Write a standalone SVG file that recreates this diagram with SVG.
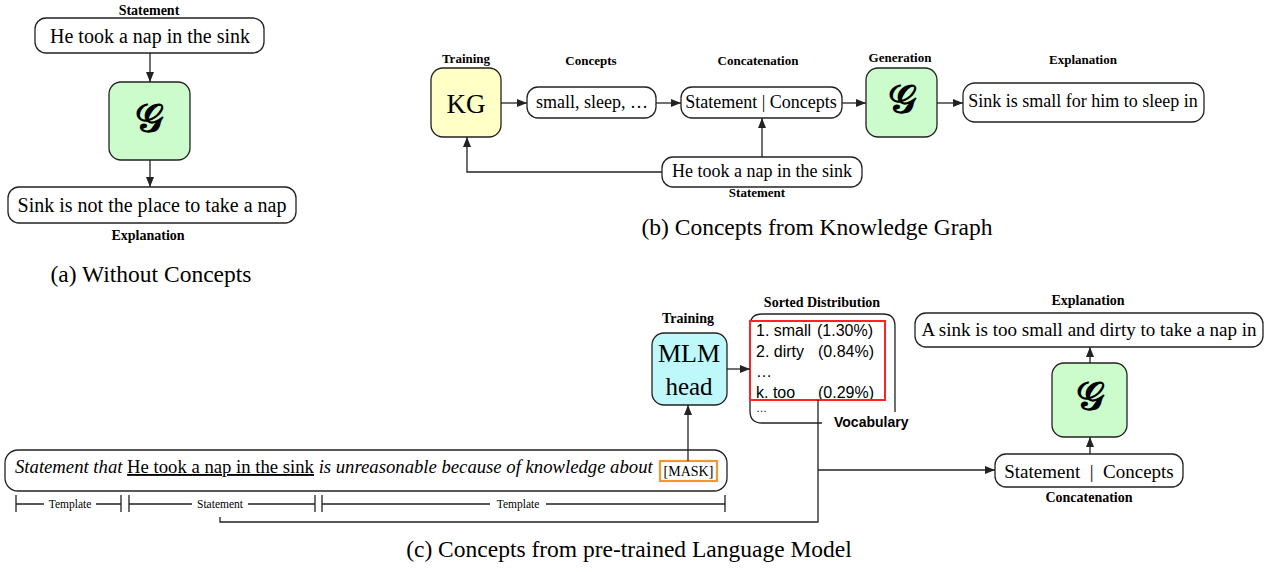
<svg xmlns="http://www.w3.org/2000/svg" width="1276" height="572" viewBox="0 0 1276 572">
<style>
.box{fill:#fff;stroke:#222;stroke-width:1.3}
.gbox{fill:#ccfccc;stroke:#222;stroke-width:1.3}
.kg{fill:#ffffc6;stroke:#222;stroke-width:1.3}
.mlm{fill:#bff8fb;stroke:#222;stroke-width:1.3}
.ln{fill:none;stroke:#222;stroke-width:1.3}
.arr{fill:none;stroke:#222;stroke-width:1.3;marker-end:url(#ah)}
text{font-family:"Liberation Serif","Times New Roman",serif;fill:#000}
.lbl{font-weight:bold;font-size:14px;text-anchor:middle}
.lblb{font-weight:bold;font-size:13px;text-anchor:middle}
.t20{font-size:20px;text-anchor:middle}
.t18{font-size:18px;text-anchor:middle}
.t19{font-size:19px;text-anchor:middle}
.cap{font-size:23.5px;text-anchor:middle}
.g{font-size:40px;text-anchor:middle;font-weight:bold}
.sans{font-family:"Liberation Sans",Arial,sans-serif;font-size:16px}
.brk{font-size:11.5px;text-anchor:middle}
</style>
<defs>
<marker id="ah" viewBox="0 0 10 8" refX="10" refY="4" markerWidth="10" markerHeight="8" markerUnits="userSpaceOnUse" orient="auto"><path d="M0,0 L10,4 L0,8 z" fill="#222"/></marker>
</defs>

<!-- (a) -->
<g id="a-statement">
<text class="lbl" x="149" y="15">Statement</text>
<rect class="box" x="35" y="18" width="229" height="35" rx="11"/>
<text class="t20" x="150" y="43">He took a nap in the sink</text>
</g>
<g id="a-generator">
<rect class="gbox" x="109" y="82" width="81" height="78" rx="12"/>
<text class="g" x="149" y="132">𝒢</text>
</g>
<g id="a-explanation">
<rect class="box" x="8" y="187" width="288" height="36" rx="11"/>
<text class="t20" x="152" y="212">Sink is not the place to take a nap</text>
<text class="lbl" x="148" y="240">Explanation</text>
</g>
<text class="cap" x="151" y="282">(a) Without Concepts</text>

<!-- (b) -->
<g id="b-kg">
<text class="lblb" x="466" y="63">Training</text>
<rect class="kg" x="431" y="68" width="70" height="69" rx="12"/>
<text x="466" y="113" style="font-size:27px;text-anchor:middle">KG</text>
</g>
<g id="b-concepts">
<text class="lblb" x="591" y="65">Concepts</text>
<rect class="box" x="527" y="87" width="129" height="31" rx="11"/>
<text class="t18" x="592" y="108">small, sleep, …</text>
</g>
<g id="b-concat">
<text class="lblb" x="758" y="65">Concatenation</text>
<rect class="box" x="681" y="87" width="161" height="31" rx="11"/>
<text class="t18" x="761" y="108">Statement | Concepts</text>
</g>
<g id="b-generator">
<text class="lblb" x="900" y="62">Generation</text>
<rect class="gbox" x="866" y="68" width="71" height="69" rx="12"/>
<text class="g" x="902" y="113">𝒢</text>
</g>
<g id="b-explanation">
<text class="lblb" x="1083" y="64">Explanation</text>
<rect class="box" x="963" y="83" width="241" height="39" rx="12"/>
<text class="t18" x="1083" y="107">Sink is small for him to sleep in</text>
</g>
<g id="b-statement">
<rect class="box" x="662" y="157" width="200" height="30" rx="11"/>
<text class="t18" x="762" y="177">He took a nap in the sink</text>
<text class="lblb" x="757" y="197">Statement</text>
</g>
<text class="cap" x="817" y="235">(b) Concepts from Knowledge Graph</text>

<!-- (c) -->
<g id="c-mlm">
<text class="lbl" x="688" y="323">Training</text>
<rect class="mlm" x="652" y="333" width="75" height="72" rx="12"/>
<text x="689" y="362" style="font-size:26px;text-anchor:middle">MLM</text>
<text x="689" y="395" style="font-size:25px;text-anchor:middle">head</text>
</g>
<g id="c-distribution">
<text class="lbl" x="822" y="307">Sorted Distribution</text>
<path class="ln" d="M822,423 H762 Q750,423 750,411 V326 Q750,314 762,314 H883 Q895,314 895,326 V412"/>
<text class="sans" x="756" y="336">1. small<tspan x="817">(1.30%)</tspan></text>
<text class="sans" x="756" y="357">2. dirty<tspan x="818">(0.84%)</tspan></text>
<text class="sans" x="756" y="377">…</text>
<text class="sans" x="756" y="398">k. too<tspan x="818">(0.29%)</tspan></text>
<text class="sans" x="756" y="412" style="font-size:11px">…</text>
<rect x="750" y="321" width="135" height="79" fill="none" stroke="#f22" stroke-width="2"/>
<text x="834" y="427" style="font-family:'Liberation Sans',Arial,sans-serif;font-weight:bold;font-size:14px">Vocabulary</text>
</g>
<g id="c-template">
<rect class="box" x="5" y="450" width="722" height="41" rx="13"/>
<text x="15" y="473" style="font-size:18.7px"><tspan font-style="italic">Statement that </tspan><tspan text-decoration="underline">He took a nap in the sink</tspan><tspan font-style="italic"> is unreasonable because of knowledge about</tspan></text>
<rect x="660" y="461" width="57" height="20" fill="#fff" stroke="#f7962a" stroke-width="2.2"/>
<text x="688.5" y="476" style="font-size:14px;text-anchor:middle">[MASK]</text>
</g>
<g id="c-brackets">
<path class="ln" d="M16,495 V512 M16,504 H44 M96,504 H121 M121,495 V512"/>
<text class="brk" x="70" y="508">Template</text>
<path class="ln" d="M129,495 V512 M129,504 H192 M248,504 H315 M315,495 V512"/>
<text class="brk" x="220" y="508">Statement</text>
<path class="ln" d="M322,495 V512 M322,504 H490 M546,504 H725 M725,495 V512"/>
<text class="brk" x="518" y="508">Template</text>
</g>
<g id="c-generator">
<rect class="gbox" x="1052" y="363" width="75" height="74" rx="12"/>
<text class="g" x="1090" y="410">𝒢</text>
</g>
<g id="c-explanation">
<text class="lbl" x="1088" y="305">Explanation</text>
<rect class="box" x="915" y="313" width="348" height="34" rx="11"/>
<text class="t19" x="1089" y="336">A sink is too small and dirty to take a nap in</text>
</g>
<g id="c-concat">
<rect class="box" x="995" y="454" width="188" height="33" rx="11"/>
<text class="t19" x="1089" y="478" style="white-space:pre">Statement  |  Concepts</text>
<text class="lbl" x="1089" y="502">Concatenation</text>
</g>
<text class="cap" x="629" y="557">(c) Concepts from pre-trained Language Model</text>

<g id="connectors">
<path class="arr" d="M150,53 V82"/>
<path class="arr" d="M150,160 V187"/>
<path class="arr" d="M501,103 H527"/>
<path class="arr" d="M656,103 H681"/>
<path class="arr" d="M842,103 H866"/>
<path class="arr" d="M937,103 H963"/>
<path class="arr" d="M762,157 V118"/>
<path class="arr" d="M662,172 H467 V137"/>
<path class="arr" d="M727,369 H750"/>
<path class="arr" d="M688,461 V405"/>
<path class="ln" d="M818,400 V522 H220 V517"/>
<path class="arr" d="M818,470 H995"/>
<path class="arr" d="M1090,454 V437"/>
<path class="arr" d="M1090,363 V347"/>
</g>
</svg>
